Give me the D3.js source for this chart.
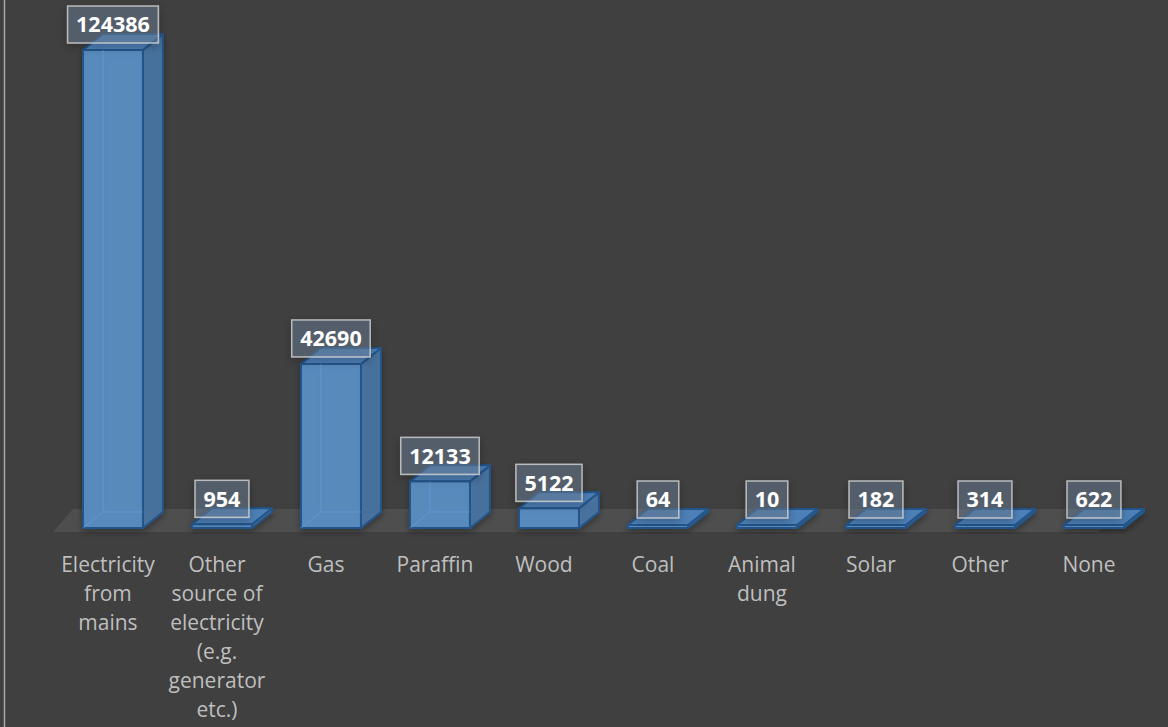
<!DOCTYPE html>
<html>
<head>
<meta charset="utf-8">
<script src="https://cdn.jsdelivr.net/npm/d3@7"></script>
<style>
  html, body { margin: 0; padding: 0; background: #404040; }
  svg { display: block; }
</style>
</head>
<body>
<svg id="chart" width="1168" height="727"></svg>
<script>
const categories = [
  "Electricity from mains",
  "Other source of electricity (e.g. generator etc.)",
  "Gas",
  "Paraffin",
  "Wood",
  "Coal",
  "Animal dung",
  "Solar",
  "Other",
  "None"
];
const values = [124386, 954, 42690, 12133, 5122, 64, 10, 182, 314, 622];

const W = 1168, H = 727;
const svg = d3.select("#chart");
const defs = svg.append("defs");
const f = defs.append("filter").attr("id", "shadow").attr("x", "-30%").attr("y", "-30%").attr("width", "160%").attr("height", "170%");
f.append("feDropShadow").attr("dx", 0).attr("dy", 3).attr("stdDeviation", 4).attr("flood-color", "#000").attr("flood-opacity", 0.45);
const f2 = defs.append("filter").attr("id", "barshadow").attr("x", "-30%").attr("y", "-30%").attr("width", "160%").attr("height", "160%");
f2.append("feDropShadow").attr("dx", 0).attr("dy", 3).attr("stdDeviation", 3).attr("flood-color", "#000").attr("flood-opacity", 0.35);

svg.append("rect").attr("width", W).attr("height", H).attr("fill", "#404040");
svg.append("line").attr("x1", 4.5).attr("x2", 4.5).attr("y1", 0).attr("y2", H)
  .attr("stroke", "#a8a8a8").attr("stroke-width", 1.5);

const x = d3.scaleBand().domain(categories).range([50.3, 1156.65]).paddingInner(0.45).paddingOuter(0.3);
const y = d3.scaleLinear().domain([0, d3.max(values)]).range([528, 50]);
const dx = 20, dy = 16;

// floor
const floorFront = 532, floorBack = 509;
svg.append("path")
  .attr("d", `M53,${floorFront} L73,${floorBack} L1190,${floorBack} L1190,${floorFront} Z`)
  .attr("fill", "#4e4e4e");
svg.append("path")
  .attr("d", `M1098,${floorFront} L1124,${floorBack} L1190,${floorBack} L1190,${floorFront} Z`)
  .attr("fill", "#404040");

const data = categories.map((c, i) => ({ c, v: values[i] }));

const bars = svg.append("g").selectAll("g").data(data).join("g").attr("filter", "url(#barshadow)");
const edge = "#24548a";
bars.each(function(d) {
  const g = d3.select(this);
  const x0 = x(d.c), w = x.bandwidth();
  const yb = y(0);
  let yt = y(d.v);
  if (yb - yt < 3) yt = yb - 3;
  g.append("path")
    .attr("d", `M${x0 + dx},${yt - dy} L${x0 + dx},${yb - dy} L${x0 + w + dx},${yb - dy} M${x0},${yb} L${x0 + dx},${yb - dy}`)
    .attr("fill", "none").attr("stroke", "#3a70aa").attr("stroke-width", 1);
  g.append("path")
    .attr("d", `M${x0 + w},${yb} L${x0 + w + dx},${yb - dy} L${x0 + w + dx},${yt - dy} L${x0 + w},${yt} Z`)
    .attr("fill", "#47739f").attr("fill-opacity", 0.97).attr("stroke", edge).attr("stroke-width", 2).attr("stroke-linejoin", "round");
  g.append("path")
    .attr("d", `M${x0},${yt} L${x0 + dx},${yt - dy} L${x0 + w + dx},${yt - dy} L${x0 + w},${yt} Z`)
    .attr("fill", "#4d80b6").attr("stroke", edge).attr("stroke-width", 2).attr("stroke-linejoin", "round");
  g.append("rect")
    .attr("x", x0).attr("y", yt).attr("width", w).attr("height", yb - yt)
    .attr("fill", "#5a8fc6").attr("fill-opacity", 0.92).attr("stroke", edge).attr("stroke-width", 2);
  if (yb - yt > 20) {
    g.append("path")
      .attr("d", `M${x0 + dx},${yt} L${x0 + dx},${yb - dy} L${x0 + w},${yb - dy} M${x0},${yb} L${x0 + dx},${yb - dy}`)
      .attr("fill", "none").attr("stroke", "#6a9fd6").attr("stroke-opacity", 0.6).attr("stroke-width", 1);
  }
});

// data labels
const labels = svg.append("g").selectAll("g").data(data).join("g");
labels.each(function(d) {
  const g = d3.select(this);
  const cx = x(d.c) + x.bandwidth() / 2;
  const yb = y(0);
  let yt = y(d.v);
  if (yb - yt < 3) yt = yb - 3;
  const cy = yt - 25.5;
  const rect = g.append("rect").attr("filter", "url(#shadow)");
  const t = g.append("text")
    .attr("x", cx).attr("y", cy).attr("dy", "0.36em")
    .attr("text-anchor", "middle")
    .attr("font-family", "'Open Sans', sans-serif").attr("font-weight", 700).attr("font-size", 21.5)
    .attr("fill", "#ffffff")
    .text(d3.format("d")(d.v));
  const tw = t.node().getComputedTextLength();
  const bw = tw + 17, bh = 37;
  rect.attr("x", cx - bw / 2).attr("y", cy - bh / 2).attr("width", bw).attr("height", bh)
    .attr("fill", "rgba(110,130,155,0.45)").attr("stroke", "rgba(205,205,205,0.85)").attr("stroke-width", 1.5);
});

// category labels with wrapping
const maxW = 104, lineH = 29, firstBase = 572;
const cat = svg.append("g").selectAll("text").data(categories).join("text")
  .attr("text-anchor", "middle")
  .attr("font-family", "'Open Sans', sans-serif").attr("font-size", 21)
  .attr("fill", "#bfbfbf");
cat.each(function(c) {
  const t = d3.select(this);
  const cx = x(c) + x.bandwidth() / 2 - 5;
  const words = c.split(/\s+/);
  let lines = [], cur = [];
  const probe = t.append("tspan");
  words.forEach(wd => {
    const test = cur.concat([wd]).join(" ");
    probe.text(test);
    if (probe.node().getComputedTextLength() > maxW && cur.length) {
      lines.push(cur.join(" "));
      cur = [wd];
    } else cur.push(wd);
  });
  if (cur.length) lines.push(cur.join(" "));
  probe.remove();
  lines.forEach((ln, i) => {
    t.append("tspan").attr("x", cx).attr("y", firstBase + i * lineH).text(ln);
  });
});
</script>
</body>
</html>
